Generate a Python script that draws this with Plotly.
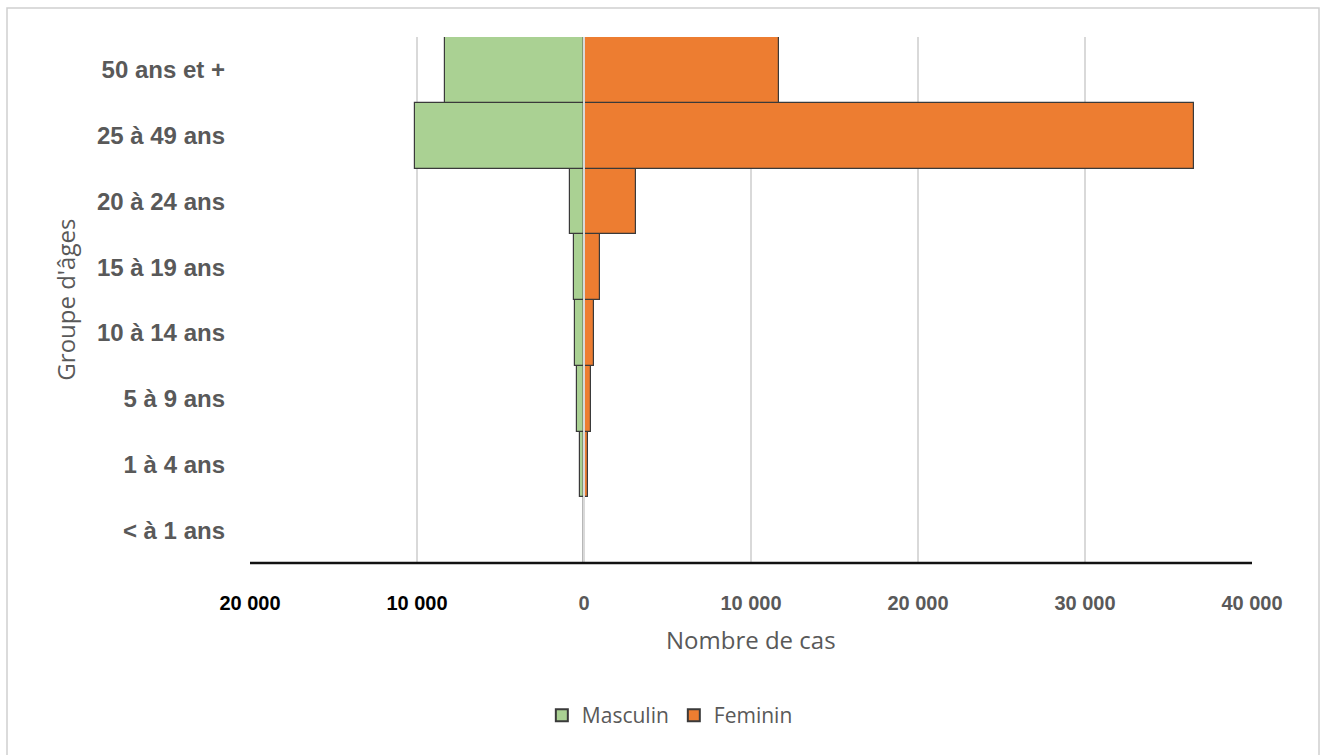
import plotly.graph_objects as go

# Age groups, bottom to top
age_groups = ["< à 1 ans", "1 à 4 ans", "5 à 9 ans", "10 à 14 ans",
              "15 à 19 ans", "20 à 24 ans", "25 à 49 ans", "50 ans et +"]
masculin = [30, 240, 400, 560, 600, 840, 10100, 8300]
feminin = [40, 260, 440, 600, 940, 3100, 36500, 11700]

tick_vals = [-20000, -10000, 0, 10000, 20000, 30000, 40000]
tick_labels = ["20 000", "10 000", "0", "10 000", "20 000", "30 000", "40 000"]

GRAY_TXT = "#595959"
GREEN = "#aad193"
ORANGE = "#ed7d31"
EDGE = "#3a3a3a"

fig = go.Figure()
fig.add_trace(go.Bar(
    y=age_groups, x=[-v for v in masculin], orientation="h", name="Masculin",
    marker=dict(color=GREEN, line=dict(color=EDGE, width=1.2)),
    customdata=masculin, hovertemplate="%{y}: %{customdata}<extra>Masculin</extra>",
))
fig.add_trace(go.Bar(
    y=age_groups, x=feminin, orientation="h", name="Feminin",
    marker=dict(color=ORANGE, line=dict(color=EDGE, width=1.2)),
    hovertemplate="%{y}: %{x}<extra>Feminin</extra>",
))

tick_text = []
for v, t in zip(tick_vals, tick_labels):
    col = "#000000" if v < 0 else GRAY_TXT
    tick_text.append(f"<span style='color:{col}'><b>{t}</b></span>")

fig.update_layout(
    barmode="overlay",
    bargap=0,
    width=1323, height=755,
    margin=dict(l=250, r=71, t=37, b=192),
    paper_bgcolor="white", plot_bgcolor="white",
    font=dict(family="Liberation Sans, Arial, sans-serif", color=GRAY_TXT),
    xaxis=dict(
        range=[-20000, 40000], tickvals=tick_vals, ticktext=tick_text,
        showgrid=True, gridcolor="#d9d9d9", gridwidth=1.5,
        zeroline=False, showline=False, ticks="",
        ticklabelstandoff=26,
        tickfont=dict(family="Liberation Sans, Arial", size=20),
        fixedrange=True,
    ),
    yaxis=dict(
        categoryorder="array", categoryarray=age_groups,
        range=[-0.5, 7.5], showgrid=False, zeroline=False, showline=False,
        ticks="", ticklabelstandoff=24,
        tickfont=dict(family="Liberation Sans, Arial", size=24, color=GRAY_TXT, weight="bold"),
        fixedrange=True,
    ),
    legend=dict(
        orientation="h", x=0.419, xanchor="center", y=-0.29, yanchor="middle",
        font=dict(family="Open Sans, Liberation Sans", size=21, color=GRAY_TXT),
        itemsizing="constant", traceorder="normal", itemwidth=30,
    ),
    annotations=[
        dict(text="Nombre de cas", xref="paper", yref="paper", x=0.5, y=-0.145,
             xanchor="center", yanchor="middle", showarrow=False,
             font=dict(family="Open Sans, Liberation Sans", size=24, color=GRAY_TXT)),
        dict(text="Groupe d'âges", xref="paper", yref="paper", x=-0.185, y=0.5,
             xanchor="center", yanchor="middle", showarrow=False, textangle=-90,
             font=dict(family="Open Sans, Liberation Sans", size=24, color=GRAY_TXT)),
    ],
    shapes=[
        # vertical axis through zero, drawn over the bars
        dict(type="line", xref="x", yref="paper", x0=0, x1=0, y0=0, y1=1,
             line=dict(color="#d9d9d9", width=2), layer="above"),
        # bottom axis line
        dict(type="line", xref="paper", yref="paper", x0=0, x1=1, y0=0, y1=0,
             line=dict(color="#111111", width=2.5), layer="above"),
        # chart frame (its lower edge runs past the page bottom)
        dict(type="rect", xref="paper", yref="paper",
             x0=-243 / 1002, x1=1069 / 1002, y0=-210 / 526, y1=(526 + 29) / 526,
             line=dict(color="#d0d0d0", width=1.5), layer="below"),
    ],
)

fig.write_html("out.html")
